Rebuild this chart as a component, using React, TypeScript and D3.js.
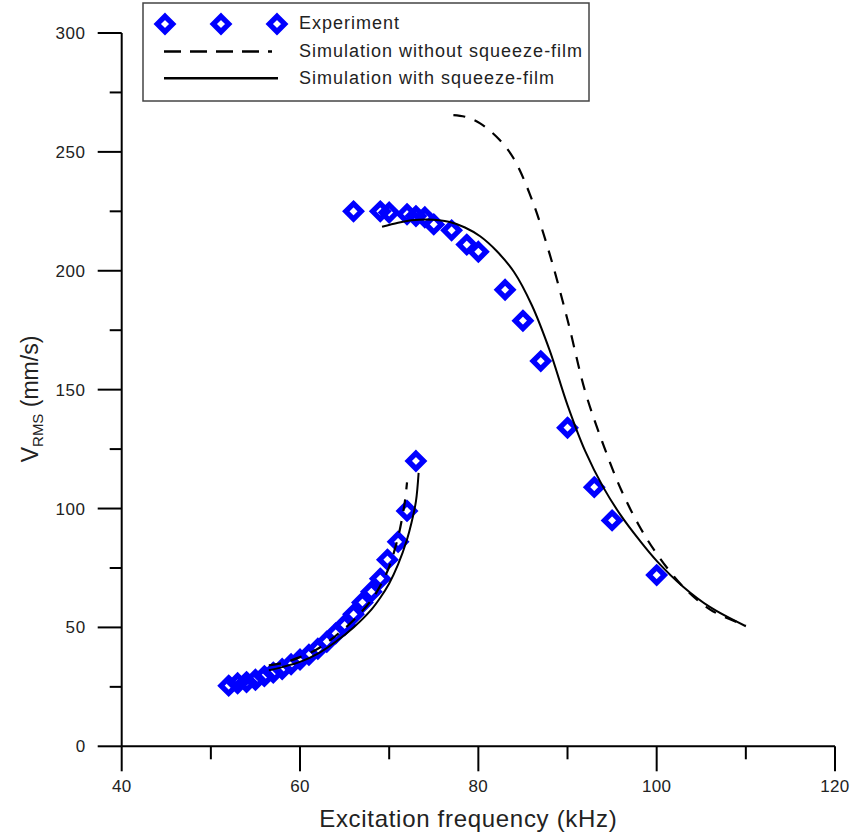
import React from "react";
import * as d3 from "d3";

// Experiment data (frequency kHz, V_RMS mm/s)
const expLowerFreq = [52, 53, 54, 55, 56, 57, 58, 59, 60, 61, 62, 63, 64, 65, 66, 67, 68, 69, 69.8, 71, 72, 73];
const expLowerVel = [25.5, 26.5, 27, 28, 29.5, 31, 32.5, 34.5, 36.5, 38.5, 41, 44, 47.5, 51, 55.5, 60.5, 65, 70.5, 78.5, 86, 99, 120];
const expUpperFreq = [66, 69, 70, 72, 73, 74, 75, 77, 78.7, 80, 83, 85, 87, 90, 93, 95, 100];
const expUpperVel = [225, 225, 224.5, 223.8, 223, 222.5, 219.5, 217, 211, 208, 192, 179, 162, 134, 109, 95, 72];

// Simulation without squeeze-film (dashed)
const noSqLowerFreq = [56.5, 58, 60, 62, 64, 66, 68, 69, 70, 71, 71.5, 71.8, 72];
const noSqLowerVel = [34, 35, 37.5, 41, 46.5, 53, 61.5, 67.5, 75.5, 88, 97, 104, 111];
const noSqUpperFreq = [77.2, 78.5, 80.2, 82.4, 84, 86, 88, 90, 92, 94, 96, 98, 100, 103, 106, 109.3, 110];
const noSqUpperVel = [265.5, 264.8, 262, 255, 247, 230, 207, 179.4, 149, 127, 108, 93, 81, 67, 57.5, 51.8, 50.8];

// Simulation with squeeze-film (solid)
const sqLowerFreq = [56.5, 58, 60, 62, 64, 66, 68, 69, 70, 71, 72, 72.5, 73, 73.3];
const sqLowerVel = [32, 33.3, 35.5, 39, 44, 50, 57.5, 62.5, 68.5, 76.5, 87, 94, 103, 115];
const sqUpperFreq = [69.2, 71, 72.5, 74.2, 76.8, 78.5, 80.2, 82, 84, 86, 88, 90, 92, 94, 96, 98, 100, 103, 106, 110];
const sqUpperVel = [218.5, 220.2, 221.2, 221.6, 220.5, 218.2, 214.5, 208.5, 199.5, 185.5, 166.5, 143.5, 124, 109, 97, 87, 78, 67, 58.5, 50.5];

const xTicks = [40, 60, 80, 100, 120];
const xMinorTicks = [50, 70, 90, 110];
const yTicks = [0, 50, 100, 150, 200, 250, 300];
const yMinorTicks = [25, 75, 125, 175, 225, 275];

const legendLabels = ["Experiment", "Simulation without squeeze-film", "Simulation with squeeze-film"];

const W = 852;
const H = 834;
const FONT = "'Liberation Sans', Arial, sans-serif";

export default function App() {
  const x = d3.scaleLinear().domain([40, 120]).range([121.7, 835]);
  const y = d3.scaleLinear().domain([0, 300]).range([746.3, 33]);

  const line = d3
    .line<[number, number]>()
    .x((d) => x(d[0]))
    .y((d) => y(d[1]))
    .curve(d3.curveCatmullRom.alpha(0.5));

  const zip = (a: number[], b: number[]) => a.map((v, i) => [v, b[i]] as [number, number]);

  const expPts = [...zip(expLowerFreq, expLowerVel), ...zip(expUpperFreq, expUpperVel)];
  const dashedPaths = [zip(noSqLowerFreq, noSqLowerVel), zip(noSqUpperFreq, noSqUpperVel)];
  const solidPaths = [zip(sqLowerFreq, sqLowerVel), zip(sqUpperFreq, sqUpperVel)];

  const r = 7.7;
  const diamond = `M0,${-r}L${r},0L0,${r}L${-r},0Z`;

  const axisColor = "#000";
  const textColor = "#222";
  const x0 = x(40);
  const y0 = y(0);

  return (
    <div style={{ position: "absolute", left: 0, top: 0 }}>
      <svg width={W} height={H} style={{ display: "block", background: "#fff" }}>
        <rect x={0} y={0} width={W} height={H} fill="#fff" />
        {/* axes */}
        <line x1={x0} x2={x(120)} y1={y0} y2={y0} stroke={axisColor} strokeWidth={2} />
        <line x1={x0} x2={x0} y1={y(300)} y2={y0} stroke={axisColor} strokeWidth={2} />
        {xTicks.map((t) => (
          <g key={"xt" + t}>
            <line x1={x(t)} x2={x(t)} y1={y0} y2={y0 + 25} stroke={axisColor} strokeWidth={2} />
            <text x={x(t)} y={y0 + 46} textAnchor="middle" fontFamily={FONT} fontSize={17} letterSpacing={0.3} fill={textColor}>
              {t}
            </text>
          </g>
        ))}
        {xMinorTicks.map((t) => (
          <line key={"xm" + t} x1={x(t)} x2={x(t)} y1={y0} y2={y0 + 13} stroke={axisColor} strokeWidth={2} />
        ))}
        {yTicks.map((t) => (
          <g key={"yt" + t}>
            <line x1={x0 - 24} x2={x0} y1={y(t)} y2={y(t)} stroke={axisColor} strokeWidth={2} />
            <text x={x0 - 36} y={y(t) + 6} textAnchor="end" fontFamily={FONT} fontSize={17} letterSpacing={0.6} fill={textColor}>
              {t}
            </text>
          </g>
        ))}
        {yMinorTicks.map((t) => (
          <line key={"ym" + t} x1={x0 - 12} x2={x0} y1={y(t)} y2={y(t)} stroke={axisColor} strokeWidth={2} />
        ))}
        {/* axis titles */}
        <text x={(x(40) + x(120)) / 2 - 10} y={827} textAnchor="middle" fontFamily={FONT} fontSize={24} letterSpacing={0.7} fill={textColor}>
          Excitation frequency (kHz)
        </text>
        <text
          transform={`translate(38,399) rotate(-90)`}
          textAnchor="middle"
          fontFamily={FONT}
          fontSize={23}
          fill={textColor}
        >
          V
          <tspan fontSize={15} dy={5}>RMS</tspan>
          <tspan dy={-5}> (mm/s)</tspan>
        </text>

        {/* experiment diamonds */}
        {expPts.map((p, i) => (
          <path
            key={"e" + i}
            d={diamond}
            transform={`translate(${x(p[0])},${y(p[1])})`}
            fill="none"
            stroke="#0000ff"
            strokeWidth={5.3}
            strokeLinejoin="miter"
          />
        ))}

        {/* simulation lines */}
        {dashedPaths.map((pts, i) => (
          <path key={"d" + i} d={line(pts) || ""} fill="none" stroke="#000" strokeWidth={2.2} strokeDasharray="12,10" />
        ))}
        {solidPaths.map((pts, i) => (
          <path key={"s" + i} d={line(pts) || ""} fill="none" stroke="#000" strokeWidth={2} />
        ))}

        {/* legend */}
        <rect x={143} y={3} width={446} height={98} fill="#fff" stroke="#444" strokeWidth={1.5} />
        {[165, 221, 277].map((cx, i) => (
          <path
            key={"ld" + i}
            d={diamond}
            transform={`translate(${cx},24)`}
            fill="none"
            stroke="#0000ff"
            strokeWidth={5.3}
          />
        ))}
        <line x1={164} x2={272} y1={51.5} y2={51.5} stroke="#000" strokeWidth={2.5} strokeDasharray="17,9" />
        <line x1={164} x2={278} y1={78.3} y2={78.3} stroke="#000" strokeWidth={2.5} />
        {legendLabels.map((l, i) => (
          <text key={"lt" + i} x={299} y={29 + i * 27.5} fontFamily={FONT} fontSize={18} letterSpacing={1} fill={textColor}>
            {l}
          </text>
        ))}
      </svg>
    </div>
  );
}
